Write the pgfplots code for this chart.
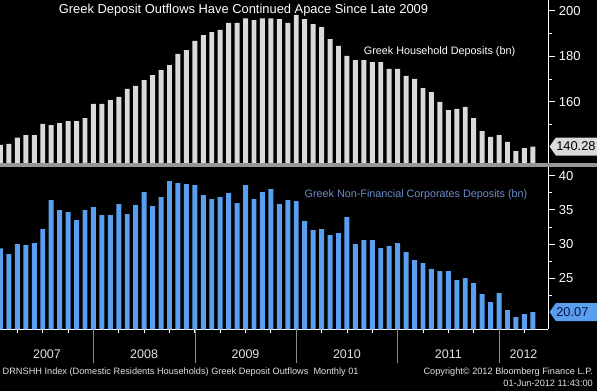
\documentclass[border=0pt]{standalone}
\usepackage{fontspec}
\setmainfont{Liberation Sans}
\usepackage{pgfplots}
\pgfplotsset{compat=1.18}
\usepackage{pgfplotstable}
\usetikzlibrary{shapes.symbols}
\definecolor{topbar}{RGB}{218,218,218}
\definecolor{botbar}{RGB}{90,158,240}
\definecolor{botlab}{RGB}{108,140,205}
\definecolor{sepgray}{RGB}{150,150,150}
\definecolor{yeargray}{RGB}{140,140,140}
\definecolor{footgray}{RGB}{225,225,225}

\pgfplotstableread{
k v
0 141.0
1 141.4
2 144.2
3 145.3
4 145.3
5 150.2
6 149.7
7 150.6
8 151.5
9 151.5
10 152.8
11 159.0
12 159.0
13 160.7
14 162.1
15 165.6
16 166.9
17 169.5
18 171.7
19 173.9
20 176.1
21 181.0
22 182.7
23 186.7
24 189.3
25 190.6
26 191.5
27 194.6
28 194.6
29 196.6
30 195.8
31 196.6
32 196.6
33 196.3
34 194.6
35 198.1
36 196.3
37 194.1
38 192.8
39 187.5
40 184.5
41 180.1
42 178.3
43 178.3
44 177.4
45 177.4
46 174.4
47 174.4
48 171.3
49 170.0
50 166.0
51 164.2
52 159.9
53 156.3
54 156.8
55 157.7
56 152.8
57 147.1
58 144.5
59 145.3
60 142.3
61 138.3
62 139.6
63 140.28
}\householdtable

\pgfplotstableread{
k v
0 29.37
1 28.54
2 30.00
3 29.85
4 30.15
5 32.19
6 36.42
7 34.96
8 34.67
9 33.50
10 34.96
11 35.40
12 34.23
13 34.23
14 35.84
15 34.38
16 35.69
17 37.59
18 35.55
19 36.86
20 39.20
21 38.91
22 38.76
23 38.61
24 37.15
25 36.57
26 36.86
27 37.45
28 35.99
29 38.61
30 36.57
31 37.59
32 38.03
33 35.84
34 36.42
35 36.28
36 33.36
37 32.04
38 32.19
39 31.31
40 31.61
41 33.94
42 30.00
43 30.58
44 30.58
45 29.42
46 29.71
47 30.15
48 28.83
49 27.66
50 27.23
51 26.35
52 26.06
53 26.06
54 24.74
55 25.04
56 24.31
57 22.70
58 21.53
59 22.85
60 20.36
61 19.34
62 19.78
63 20.07
}\corporatetable

\pgfplotsset{
  bbg/.style={
    scale only axis,
    width=548.3pt,
    xmin=-0.06, xmax=64.83,
    axis y line*=right,
    axis line style={white, line width=0.8pt},
    tick align=outside,
    major tick length=7pt, minor tick length=4pt,
    tick style={white, line width=0.8pt},
    yticklabel style={white, font=\fontsize{13}{13}\selectfont},
    /pgf/number format/assume math mode=true,
    ybar, bar width=0.59,
  }
}

\begin{document}
\begin{tikzpicture}
\useasboundingbox (0pt,0pt) rectangle (597pt,391pt);
\fill[black] (0pt,0pt) rectangle (597pt,391pt);

% top panel
\begin{axis}[bbg,
  at={(0pt,227.7pt)}, anchor=south west, height=163.3pt,
  ymin=132.91, ymax=204.69,
  axis x line=none,
  ytick={160,180,200}, minor ytick={150,170,190},
]
\addplot[fill=topbar, draw=none] table[x=k,y=v]{\householdtable};
\coordinate (hh) at (axis cs:64.83,140.28);
\end{axis}

% bottom panel
\begin{axis}[bbg,
  at={(0pt,61.7pt)}, anchor=south west, height=162.6pt,
  ymin=17.55, ymax=41.31,
  axis x line*=bottom,
  ytick={25,30,35,40}, minor ytick={22.5,27.5,32.5,37.5},
  xtick={5.5,17,29,41,53,61.9},
  xticklabels={2007,2008,2009,2010,2011,2012},
  major x tick style={draw=none},
  minor xtick={2,5,8,11,14,17,20,23,26,29,32,35,38,41,44,47,50,53,56,59,62},
  extra x ticks={11,23,35,47,59},
  extra x tick labels={},
  extra x tick style={major tick length=34pt, major x tick style={/tikz/draw=yeargray, line width=0.7pt}},
  xticklabel style={anchor=center, yshift=-18pt, text=footgray, font=\fontsize{12.5}{12.5}\selectfont},
]
\addplot[fill=botbar, draw=none] table[x=k,y=v]{\corporatetable};
\coordinate (cc) at (axis cs:64.83,20.07);
\end{axis}

% separator
\fill[sepgray] (0pt,224.3pt) rectangle (597pt,227.7pt);

% last value boxes
\node[signal, signal to=west, signal pointer angle=110, fill=topbar, text=black,
      minimum height=18pt, inner xsep=0.5pt, text width=44pt, align=left, anchor=west,
      font=\fontsize{12.8}{12.8}\selectfont, xshift=1pt] at (hh) {140.28};
\node[signal, signal to=west, signal pointer angle=110, fill=botbar, text={rgb,255:red,10;green,20;blue,60},
      minimum height=18pt, inner xsep=0.5pt, text width=44pt, align=left, anchor=west,
      font=\fontsize{12.8}{12.8}\selectfont, xshift=1pt] at (cc) {20.07};

% titles
\node[text=white, font=\fontsize{12.9}{12.9}\selectfont] at (243.5pt,381pt) {Greek Deposit Outflows Have Continued Apace Since Late 2009};
\node[text=white, font=\fontsize{10.8}{10.8}\selectfont] at (439.5pt,339.3pt) {Greek Household Deposits (bn)};
\node[text=botlab, font=\fontsize{10.8}{10.8}\selectfont] at (416pt,196.7pt) {Greek Non-Financial Corporates Deposits (bn)};

% footer
\node[text=footgray, anchor=west, inner sep=0pt, font=\fontsize{9.2}{9.2}\selectfont] at (2.5pt,19.3pt) {DRNSHH Index (Domestic Residents Households) Greek Deposit Outflows\ \ Monthly 01};
\node[text=footgray, anchor=east, inner sep=0pt, font=\fontsize{9.2}{9.2}\selectfont] at (593pt,18.7pt) {Copyright© 2012 Bloomberg Finance L.P.};
\node[text=footgray, anchor=east, inner sep=0pt, font=\fontsize{9.2}{9.2}\selectfont] at (593pt,7.7pt) {01-Jun-2012 11:43:00};
\end{tikzpicture}
\end{document}
